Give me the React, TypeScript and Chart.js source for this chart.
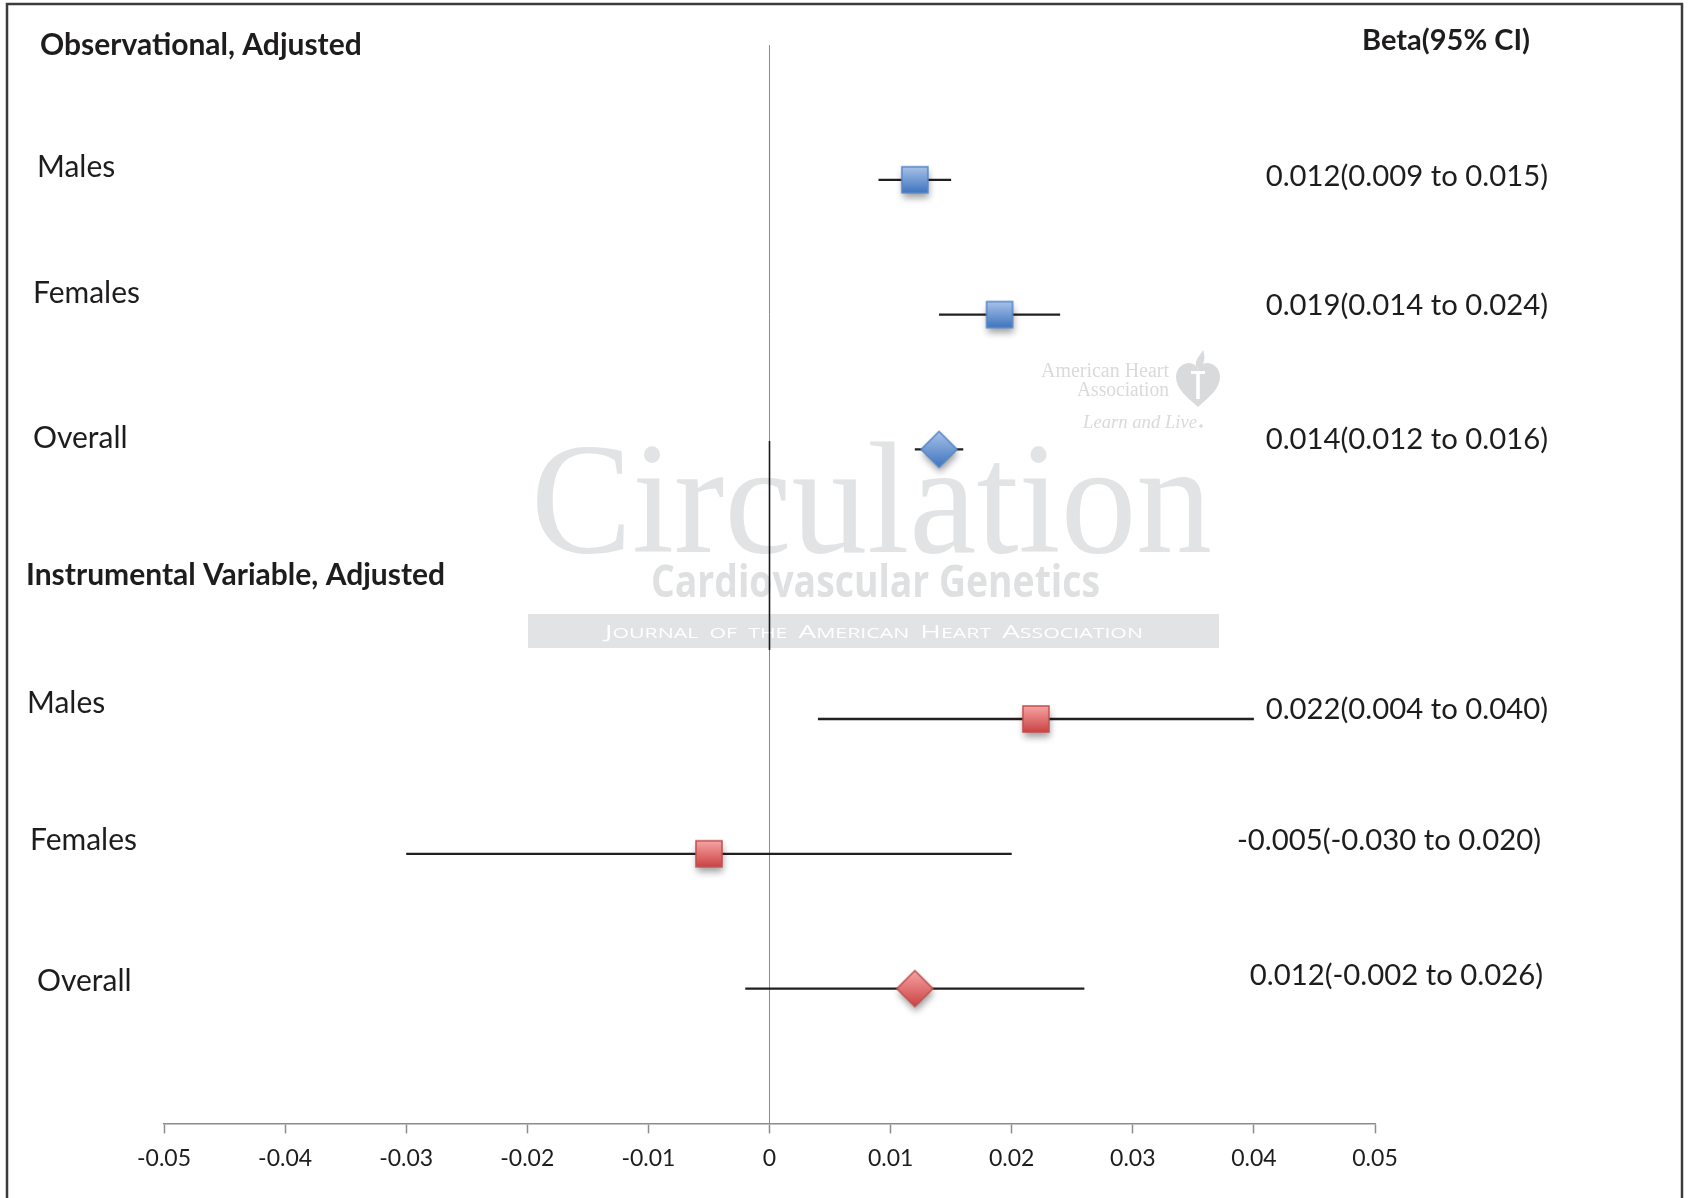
import React, { useEffect, useRef } from "react";
import { Chart, registerables } from "chart.js";

Chart.register(...registerables);

// ---------------- data ----------------
const groupHeaders = ["Observational, Adjusted", "Instrumental Variable, Adjusted"];
const groupSlots = [0, 4];
const subgroupLabels = ["Males", "Females", "Overall", "Males", "Females", "Overall"];
const subgroupSlots = [1, 2, 3, 5, 6, 7];
const subgroupGroup = [0, 0, 0, 1, 1, 1];
const isPooled = [false, false, true, false, false, true];
const betaValues = [0.012, 0.019, 0.014, 0.022, -0.005, 0.012];
const ciLower = [0.009, 0.014, 0.012, 0.004, -0.03, -0.002];
const ciUpper = [0.015, 0.024, 0.016, 0.04, 0.02, 0.026];
const tickValues = [-0.05, -0.04, -0.03, -0.02, -0.01, 0, 0.01, 0.02, 0.03, 0.04, 0.05];
const tickLabels = ["-0.05", "-0.04", "-0.03", "-0.02", "-0.01", "0", "0.01", "0.02", "0.03", "0.04", "0.05"];
const estimateColumnTitle = "Beta(95% CI)";
const slotCount = 8;

// ---------------- layout / style ----------------
const W = 1690;
const H = 1198;
const FONT = "Lato, 'Open Sans', sans-serif";
const TEXT = "#1e1c1d";
const leftLabelX = [37, 33, 33, 27, 30, 37];
const leftLabelDy = [-3, -12, -1, -6, -4, 2];
const rightLabelX = [1548, 1548, 1548, 1548, 1541, 1543];
const rightLabelDy = [6, 0, 0, 0, -4, -4];
const headerX = [40, 26];
const headerDy = [10, 1];
const groupColors = [
  { top: "#a7c2e9", bottom: "#3f74be", edge: "#5586c7" },
  { top: "#f6a4a4", bottom: "#cc4343", edge: "#c0504d" },
];

const fmt = (v: number) => v.toFixed(3);
const estimateText = betaValues.map((b, i) => `${fmt(b)}(${fmt(ciLower[i])} to ${fmt(ciUpper[i])})`);

function makeMarker(diamond: boolean, c: { top: string; bottom: string; edge: string }) {
  const size = 66;
  const cv = document.createElement("canvas");
  cv.width = size;
  cv.height = size;
  const g = cv.getContext("2d")!;
  const cx = size / 2;
  const cy = size / 2;
  const half = diamond ? 18 : 13;
  const p = new Path2D();
  if (diamond) {
    p.moveTo(cx, cy - half);
    p.lineTo(cx + half, cy);
    p.lineTo(cx, cy + half);
    p.lineTo(cx - half, cy);
    p.closePath();
  } else {
    p.rect(cx - half, cy - half, 2 * half, 2 * half);
  }
  g.save();
  g.shadowColor = "rgba(0,0,0,0.38)";
  g.shadowBlur = 7;
  g.shadowOffsetX = 1;
  g.shadowOffsetY = 5;
  g.fillStyle = c.bottom;
  g.fill(p);
  g.restore();
  const grad = g.createLinearGradient(0, cy - half, 0, cy + half);
  grad.addColorStop(0, c.top);
  grad.addColorStop(1, c.bottom);
  g.fillStyle = grad;
  g.fill(p);
  g.lineWidth = 1.5;
  g.strokeStyle = c.edge;
  g.stroke(p);
  return cv;
}

function drawSmallCaps(ctx: CanvasRenderingContext2D, text: string, x: number, y: number, targetWidth: number) {
  const big = "19px 'Open Sans', sans-serif";
  const small = "14.5px 'Open Sans', sans-serif";
  const parts: { s: string; f: string }[] = [];
  text.split(" ").forEach((w, wi) => {
    if (wi > 0) parts.push({ s: "  ", f: small });
    const capital = w[0] === w[0].toUpperCase();
    if (capital) {
      parts.push({ s: w[0], f: big });
      if (w.length > 1) parts.push({ s: w.slice(1).toUpperCase(), f: small });
    } else {
      parts.push({ s: w.toUpperCase(), f: small });
    }
  });
  let total = 0;
  parts.forEach((p) => {
    ctx.font = p.f;
    total += ctx.measureText(p.s).width;
  });
  const k = targetWidth / total;
  ctx.save();
  ctx.translate(x, y);
  ctx.scale(k, 1);
  let cx = 0;
  parts.forEach((p) => {
    ctx.font = p.f;
    ctx.fillText(p.s, cx, 0);
    cx += ctx.measureText(p.s).width;
  });
  ctx.restore();
}

function drawWatermark(ctx: CanvasRenderingContext2D) {
  ctx.save();
  ctx.textAlign = "left";
  ctx.textBaseline = "alphabetic";
  // "Circulation"
  ctx.fillStyle = "#e2e3e4";
  ctx.font = "158px 'Liberation Serif', 'DejaVu Serif', serif";
  ctx.fillText("Circulation", 531, 552, 681);
  // "Cardiovascular Genetics"
  ctx.fillStyle = "#dfe0e1";
  ctx.font = "bold 44px 'Open Sans', sans-serif";
  ctx.fillText("Cardiovascular Genetics", 651, 597, 449);
  // band
  ctx.fillStyle = "#e2e3e4";
  ctx.fillRect(528, 614, 691, 34);
  ctx.fillStyle = "#ffffff";
  drawSmallCaps(ctx, "Journal of the American Heart Association", 605, 637.5, 538);
  // American Heart Association
  ctx.fillStyle = "#d9dadb";
  ctx.font = "20px 'Liberation Serif', serif";
  ctx.textAlign = "right";
  ctx.fillText("American Heart", 1169, 377, 128);
  ctx.fillText("Association", 1169, 396, 92);
  ctx.font = "italic 19px 'Liberation Serif', serif";
  ctx.textAlign = "left";
  ctx.fillText("Learn and Live", 1083, 428, 114);
  ctx.beginPath();
  ctx.arc(1201, 426, 1.8, 0, Math.PI * 2);
  ctx.fill();
  // heart logo
  const cx = 1198;
  ctx.beginPath();
  ctx.moveTo(cx, 407);
  ctx.bezierCurveTo(cx - 10, 398, cx - 22, 389, cx - 22, 377);
  ctx.bezierCurveTo(cx - 22, 368, cx - 15, 363, cx - 9, 363);
  ctx.bezierCurveTo(cx - 4, 363, cx, 367, cx, 370);
  ctx.bezierCurveTo(cx, 367, cx + 4, 363, cx + 9, 363);
  ctx.bezierCurveTo(cx + 15, 363, cx + 22, 368, cx + 22, 377);
  ctx.bezierCurveTo(cx + 22, 389, cx + 10, 398, cx, 407);
  ctx.closePath();
  ctx.fill();
  ctx.beginPath();
  ctx.moveTo(cx - 1, 368);
  ctx.bezierCurveTo(cx - 5, 361, cx + 2, 356, cx + 5, 350);
  ctx.bezierCurveTo(cx + 8, 357, cx + 6, 363, cx + 3, 368);
  ctx.closePath();
  ctx.fill();
  ctx.fillStyle = "#ffffff";
  ctx.fillRect(cx - 7, 371, 14, 3);
  ctx.fillRect(cx - 1.8, 372, 3.6, 27);
  ctx.restore();
}

const decorPlugin = {
  id: "forestDecor",
  beforeDraw(chart: any) {
    const ctx: CanvasRenderingContext2D = chart.ctx;
    ctx.save();
    ctx.fillStyle = "#ffffff";
    ctx.fillRect(0, 0, chart.width, chart.height);
    ctx.strokeStyle = "#3c3c3c";
    ctx.lineWidth = 2.5;
    ctx.strokeRect(7, 4, 1675, 1260);
    ctx.restore();
  },
  beforeDatasetsDraw(chart: any) {
    const ctx: CanvasRenderingContext2D = chart.ctx;
    drawWatermark(ctx);
    const x0 = chart.scales.x.getPixelForValue(0);
    ctx.save();
    ctx.strokeStyle = "#1a1a1a";
    ctx.lineWidth = 1.6;
    ctx.beginPath();
    ctx.moveTo(x0, 441);
    ctx.lineTo(x0, 650);
    ctx.stroke();
    ctx.restore();
  },
  afterDatasetsDraw(chart: any) {
    const ctx: CanvasRenderingContext2D = chart.ctx;
    const ys = chart.scales.y;
    ctx.save();
    ctx.fillStyle = TEXT;
    ctx.textBaseline = "alphabetic";
    // group headers
    ctx.textAlign = "left";
    ctx.font = `bold 30px ${FONT}`;
    groupHeaders.forEach((h, i) => {
      ctx.fillText(h, headerX[i], ys.getPixelForValue(groupSlots[i]) + headerDy[i]);
    });
    // subgroup labels
    ctx.font = `30px ${FONT}`;
    subgroupLabels.forEach((l, i) => {
      ctx.fillText(l, leftLabelX[i], ys.getPixelForValue(subgroupSlots[i]) + leftLabelDy[i]);
    });
    // estimate column
    ctx.textAlign = "center";
    ctx.font = `bold 29px ${FONT}`;
    ctx.fillText(estimateColumnTitle, 1446, 50);
    ctx.textAlign = "right";
    ctx.font = `29.3px ${FONT}`;
    estimateText.forEach((t, i) => {
      ctx.fillText(t, rightLabelX[i], ys.getPixelForValue(subgroupSlots[i]) + rightLabelDy[i]);
    });
    ctx.restore();
  },
};

export default function App() {
  const ref = useRef<HTMLCanvasElement | null>(null);

  useEffect(() => {
    if (!ref.current) return;
    const markers = subgroupSlots.map((_, i) => makeMarker(isPooled[i], groupColors[subgroupGroup[i]]));

    const ciData: { x: number; y: number | null }[] = [];
    subgroupSlots.forEach((s, i) => {
      ciData.push({ x: ciLower[i], y: s });
      ciData.push({ x: ciUpper[i], y: s });
      ciData.push({ x: ciUpper[i], y: null });
    });

    const chart = new Chart(ref.current, {
      type: "scatter",
      data: {
        datasets: [
          {
            label: "Beta",
            data: subgroupSlots.map((s, i) => ({ x: betaValues[i], y: s })),
            pointStyle: (c: any) => markers[c.dataIndex] as any,
            pointRadius: 18,
            pointHoverRadius: 18,
            order: 0,
          } as any,
          {
            label: "95% CI",
            data: ciData,
            showLine: true,
            spanGaps: false,
            borderColor: "#231f20",
            borderWidth: 2.3,
            pointRadius: 0,
            pointHoverRadius: 0,
            order: 1,
          } as any,
        ],
      },
      options: {
        responsive: false,
        animation: false,
        events: [],
        layout: { padding: { left: 164, right: 315, top: 45, bottom: 15 } },
        plugins: { legend: { display: false }, tooltip: { enabled: false }, title: { display: false } },
        scales: {
          x: {
            type: "linear",
            min: -0.05,
            max: 0.05,
            afterBuildTicks: (s: any) => {
              s.ticks = tickValues.map((v) => ({ value: v }));
            },
            ticks: {
              autoSkip: false,
              maxRotation: 0,
              minRotation: 0,
              padding: 11,
              color: TEXT,
              font: { family: FONT, size: 23 },
              callback: (_v: any, i: number) => tickLabels[i],
            },
            grid: {
              drawOnChartArea: true,
              drawTicks: true,
              tickLength: 10,
              tickWidth: 1.5,
              tickColor: "#8c8c8c",
              lineWidth: 1,
              color: (c: any) => (c.tick && c.tick.value === 0 ? "#8c8c8c" : "rgba(0,0,0,0)"),
            },
            border: { display: true, color: "#8c8c8c", width: 1.5 },
          },
          y: {
            type: "linear",
            min: 0,
            max: slotCount,
            reverse: true,
            display: false,
          },
        },
      } as any,
      plugins: [decorPlugin],
    });
    return () => chart.destroy();
  }, []);

  return (
    <div style={{ position: "fixed", left: 0, top: 0, width: W, height: H, background: "#fff" }}>
      <canvas ref={ref} width={W} height={H} style={{ width: W, height: H, display: "block" }} />
    </div>
  );
}
